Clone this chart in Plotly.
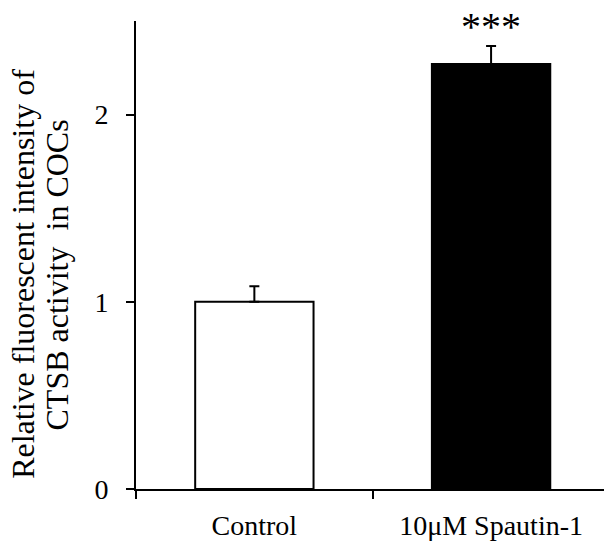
import plotly.graph_objects as go

categories = ["Control", "10μM Spautin-1"]
values = [1.00, 2.27]
errors = [0.083, 0.096]
bar_colors = ["white", "black"]
y_ticks = [0, 1, 2]
significance = "***"
y_title_lines = ["Relative fluorescent intensity of", "CTSB activity&nbsp; in COCs"]

FONT = "Liberation Serif"

x_pos = list(range(len(categories)))

fig = go.Figure()
fig.add_trace(go.Bar(
    x=x_pos, y=values, width=0.5,
    marker=dict(color=bar_colors, line=dict(color="black", width=2)),
    error_y=dict(type="data", symmetric=False, array=errors,
                 arrayminus=[0] * len(errors), color="black",
                 thickness=2, width=5),
    showlegend=False,
))

fig.add_annotation(x=x_pos[1], y=2.47, xref="x", yref="y", text=significance,
                   showarrow=False, font=dict(family=FONT, size=40, color="black"),
                   yanchor="middle")

for txt, px, py in zip(y_title_lines, [-0.240, -0.168], [0.459, 0.457]):
    fig.add_annotation(x=px, y=py, xref="paper", yref="paper", text=txt,
                       textangle=-90, showarrow=False,
                       font=dict(family=FONT, size=32, color="black"),
                       xanchor="center", yanchor="middle")

fig.update_layout(
    width=604, height=547,
    margin=dict(l=136, r=0, t=21, b=58),
    paper_bgcolor="white", plot_bgcolor="white",
    font=dict(family=FONT, size=28, color="black"),
    xaxis=dict(
        range=[-0.5, 1.477],
        tickmode="array", tickvals=x_pos, ticktext=categories,
        ticks="", showline=True, linecolor="black", linewidth=2,
        showgrid=False, zeroline=False, ticklabelstandoff=10,
        tickfont=dict(family=FONT, size=28, color="black"),
        minor=dict(tickmode="array", tickvals=[-0.5, 0.5], ticks="outside",
                   ticklen=8, tickwidth=2, tickcolor="black"),
    ),
    yaxis=dict(
        range=[0, 2.5], tickvals=y_ticks, ticks="outside", ticklen=8,
        tickwidth=2, tickcolor="black", showline=True, linecolor="black",
        linewidth=2, showgrid=False, zeroline=False, ticklabelstandoff=12,
        tickfont=dict(family=FONT, size=28, color="black"),
    ),
)

fig.write_html("out.html")
